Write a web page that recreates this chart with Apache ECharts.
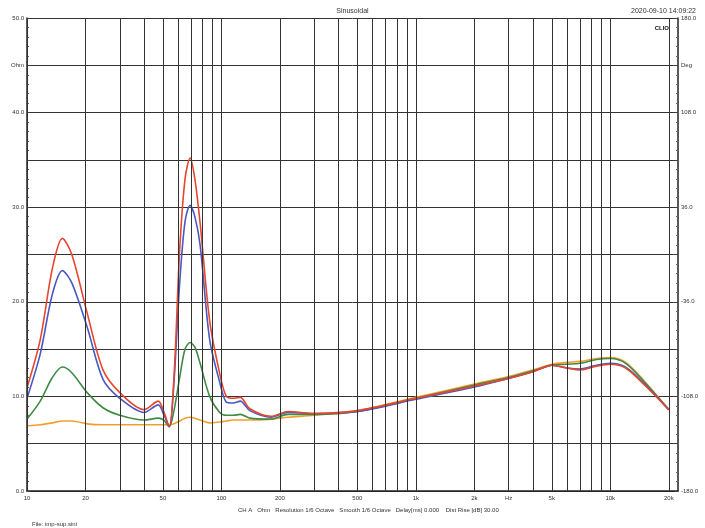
<!DOCTYPE html>
<html><head><meta charset="utf-8">
<script src="https://cdn.jsdelivr.net/npm/echarts@6/dist/echarts.min.js"></script>
<style>html,body{margin:0;background:#fff}#c{width:705px;height:528px}</style></head>
<body><div id="c"></div>
<script>
const freqs  = [10,11.7,13.5,15.2,17,20.4,24.6,30,40,47.3,50.5,53.9,57,61,65,69,73,77.7,87,98,106,115,125,140,180,220,300,500,1000,2000,3000,4000,5000,6000,7000,8500,10000,12000,15000,20000];
const red    = [10.9,16,23.5,26.7,25,18.8,12.8,10.4,8.6,9.5,8.4,6.8,12,25.5,33,35.2,33,28.3,18,12.4,10,9.8,9.9,8.7,7.9,8.4,8.2,8.5,9.8,11.1,11.9,12.6,13.3,13.0,12.8,13.2,13.4,13.0,11.2,8.6];
const blue   = [9.8,14.5,20.8,23.3,22,17.3,11.8,9.8,8.3,9.1,8.1,6.8,11.5,22,28.5,30.2,29,26,16,11.5,9.4,9.3,9.5,8.5,7.8,8.3,8.2,8.4,9.7,11.0,11.9,12.6,13.3,13.0,12.9,13.3,13.5,13.1,11.3,8.6];
const green  = [7.6,9.5,12,13.1,12.5,10.4,8.8,8.0,7.5,7.7,7.5,6.8,8.5,12,15,15.7,15.2,13.5,10,8.3,8.0,8.0,8.1,7.7,7.6,8.1,8.1,8.4,9.8,11.2,12.0,12.7,13.3,13.4,13.5,13.9,14.0,13.5,11.5,8.6];
const orange = [6.9,7.0,7.2,7.4,7.4,7.1,7.0,7.0,7.0,7.0,7.0,7.0,7.1,7.4,7.7,7.8,7.7,7.5,7.2,7.3,7.4,7.5,7.5,7.5,7.6,7.8,8.0,8.5,9.9,11.3,12.1,12.8,13.4,13.6,13.7,14.0,14.1,13.6,11.6,8.6];
const xLines = [20,30,40,50,60,70,80,90,100,200,300,400,500,600,700,800,900,1000,2000,3000,4000,5000,6000,7000,8000,9000,10000,20000];
const xLabels = {10:'10',20:'20',50:'50',100:'100',200:'200',500:'500',1000:'1k',2000:'2k',3000:'Hz',5000:'5k',10000:'10k',20000:'20k'};
const leftLabels = {50:'50.0',45:'Ohm',40:'40.0',30:'30.0',20:'20.0',10:'10.0',0:'0.0'};
const rightLabels = {180:'180.0',144:'Deg',108:'108.0',36:'36.0','-36':'-36.0','-108':'-108.0','-180':'-180.0'};

const mk = (arr)=>freqs.map((f,i)=>[f,arr[i]]);
const lineS = (name,arr,color)=>({name,type:'line',data:mk(arr),smooth:0.3,showSymbol:false,lineStyle:{color,width:1.6},itemStyle:{color}});
const labelLines = Object.keys(xLabels).map(Number);
const allLines = Array.from(new Set(xLines.concat(labelLines))).sort((a,b)=>a-b);

const chart = echarts.init(document.getElementById('c'));
chart.setOption({
  animation:false,
  textStyle:{fontFamily:'Liberation Sans, Arial'},
  grid:{left:27,right:27,top:18,bottom:37},
  title:[
    {text:'Sinusoidal',left:'center',top:3,textStyle:{fontSize:7,fontWeight:'normal',color:'#333'}},
    {text:'2020-09-10 14:09:22',right:4,top:3,textStyle:{fontSize:7,fontWeight:'normal',color:'#333'}},
    {text:'CLIO',right:31,top:20,textStyle:{fontSize:6,fontWeight:'bold',color:'#111'}},
    {text:'CH A   Ohm   Resolution 1/6 Octave   Smooth 1/6 Octave   Delay[ms] 0.000    Dist Rise [dB] 30.00',left:233,top:502,textStyle:{fontSize:6,fontWeight:'normal',color:'#333'}},
    {text:'File: imp-sup.sini',left:27,top:516,textStyle:{fontSize:6,fontWeight:'normal',color:'#333'}}
  ],
  xAxis:{type:'log',logBase:10,min:10,max:22300,
    axisLine:{show:true,lineStyle:{color:'#222',width:1.5}},axisTick:{show:false},axisLabel:{show:false},splitLine:{show:false}},
  yAxis:[
    {type:'value',min:0,max:50,interval:5,
      axisLine:{show:true,lineStyle:{color:'#222',width:1.5}},
      axisTick:{show:true,inside:true,length:3,lineStyle:{color:'#444'}},
      minorTick:{show:true,splitNumber:5,length:2,lineStyle:{color:'#666'}},
      axisLabel:{fontSize:6,color:'#333',margin:3,formatter:v=>leftLabels[v]||''},
      splitLine:{show:true,lineStyle:{color:'#333',width:1}}},
    {type:'value',min:-180,max:180,interval:36,position:'right',
      axisLine:{show:true,lineStyle:{color:'#222',width:1.5}},
      axisTick:{show:true,inside:true,length:3,lineStyle:{color:'#444'}},
      minorTick:{show:true,splitNumber:5,length:2,lineStyle:{color:'#666'}},
      axisLabel:{fontSize:6,color:'#333',margin:3,formatter:v=>rightLabels[v]||''},
      splitLine:{show:false}}
  ],
  series:[
    {type:'line',data:[],markLine:{silent:true,symbol:'none',animation:false,
      lineStyle:{color:'#333',width:1,type:'solid'},
      label:{show:true,position:'start',fontSize:6,color:'#333',distance:4,formatter:p=>xLabels[p.value]||''},
      data:allLines.map(v=>({xAxis:v}))}},
    lineS('orange',orange,'#f0a030'),
    lineS('green',green,'#3f8a45'),
    lineS('blue',blue,'#4a58c0'),
    lineS('red',red,'#e5462e')
  ]
});
</script></body></html>
